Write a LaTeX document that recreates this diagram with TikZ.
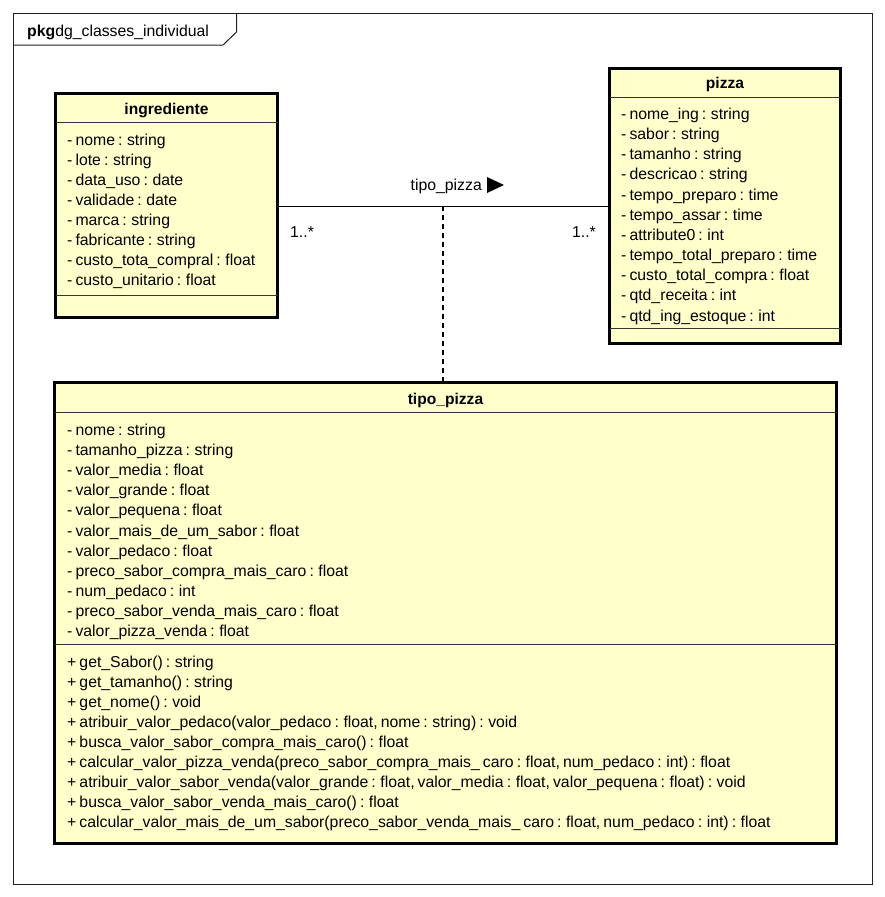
\documentclass[tikz,border=0pt]{standalone}
\usepackage{fontspec}
\setmainfont{Liberation Sans}[WordSpace=0.7]
\definecolor{umlfill}{HTML}{FFFFCC}
\definecolor{framecol}{HTML}{202020}
\begin{document}
\begin{tikzpicture}[x=1pt,y=-1pt,
  classbox/.style={draw=black, line width=3pt, fill=umlfill, rectangle, inner sep=0pt, outer sep=0pt},
  sepline/.style={draw=black!80, line width=1pt},
  attr/.style={anchor=base west, inner sep=0pt, font=\fontsize{15.8}{17}\selectfont},
  title/.style={anchor=base, inner sep=0pt, font=\fontsize{15.6}{17}\selectfont\bfseries},
  lbl/.style={inner sep=0pt, font=\fontsize{15.8}{17}\selectfont},
  assoc/.style={draw=black, line width=1pt},
  dep/.style={draw=black, line width=1.2pt, dash pattern=on 5pt off 4pt}]
\useasboundingbox (0,0) rectangle (885,897);
% package frame
\draw[draw=framecol, line width=1pt] (13.5,13.5) rectangle (872.5,884.5);
\draw[draw=framecol, line width=1pt] (13.5,45) -- (223,45) -- (236.5,32) -- (236.5,13.5);
\node[anchor=base west, inner sep=0pt, font=\fontsize{15.8}{17}\selectfont] (pkgtitle) at (27,36) {\textbf{pkg}dg\_classes\_individual};

% ingrediente
\node[classbox, minimum width=222, minimum height=224] (ing) at (166.5,205.5) {};
\node[title] (ingt) at (166.5,114) {ingrediente};
\draw[sepline] (ing.west |- 0,122) -- (ing.east |- 0,122);
\draw[sepline] (ing.west |- 0,295) -- (ing.east |- 0,295);
\foreach \t [count=\i from 0] in {- nome : string, - lote : string, - data\_uso : date, - validade : date, - marca : string, - fabricante : string, - custo\_tota\_compral : float, - custo\_unitario : float}
  \node[attr] (inga\i) at (67,145+20*\i) {\t};

% pizza
\node[classbox, minimum width=231, minimum height=275] (piz) at (725,206) {};
\node[title] (pizt) at (725,88.5) {pizza};
\draw[sepline] (piz.west |- 0,97) -- (piz.east |- 0,97);
\draw[sepline] (piz.west |- 0,328) -- (piz.east |- 0,328);
\foreach \t [count=\i from 0] in {- nome\_ing : string, - sabor : string, - tamanho : string, - descricao : string, - tempo\_preparo : time, - tempo\_assar : time, - attribute0 : int, - tempo\_total\_preparo : time, - custo\_total\_compra : float, - qtd\_receita : int, - qtd\_ing\_estoque : int}
  \node[attr] (piza\i) at (621,119.5+20.15*\i) {\t};

% tipo_pizza
\node[classbox, minimum width=782, minimum height=461] (tp) at (445.5,613) {};
\node[title] (tpt) at (445.5,404.5) {tipo\_pizza};
\draw[sepline] (tp.west |- 0,412) -- (tp.east |- 0,412);
\draw[sepline] (tp.west |- 0,644) -- (tp.east |- 0,644);
\foreach \t [count=\i from 0] in {- nome : string, - tamanho\_pizza : string, - valor\_media : float, - valor\_grande : float, - valor\_pequena : float, - valor\_mais\_de\_um\_sabor : float, - valor\_pedaco : float, - preco\_sabor\_compra\_mais\_caro : float, - num\_pedaco : int, - preco\_sabor\_venda\_mais\_caro : float, - valor\_pizza\_venda : float}
  \node[attr] (tpa\i) at (67,435.5+20.1*\i) {\t};
\foreach \t [count=\i from 0] in {+ get\_Sabor() : string, + get\_tamanho() : string, + get\_nome() : void, {+ atribuir\_valor\_pedaco(valor\_pedaco : float, nome : string) : void}, + busca\_valor\_sabor\_compra\_mais\_caro() : float, {+ calcular\_valor\_pizza\_venda(preco\_sabor\_compra\_mais\_ caro : float, num\_pedaco : int) : float}, {+ atribuir\_valor\_sabor\_venda(valor\_grande : float, valor\_media : float, valor\_pequena : float) : void}, + busca\_valor\_sabor\_venda\_mais\_caro() : float, {+ calcular\_valor\_mais\_de\_um\_sabor(preco\_sabor\_venda\_mais\_ caro : float, num\_pedaco : int) : float}}
  \node[attr] (tpm\i) at (67,667+20.1*\i) {\t};

% association
\coordinate (amid) at (443,206);
\draw[assoc] (ing.east |- amid) -- (piz.west |- amid);
\draw[dep] (amid) -- (tp.north -| amid);
\node[lbl, anchor=base east] (alabel) at (482,190.5) {tipo\_pizza};
\fill[black] (487,177) -- (504,185) -- (487,193) -- cycle;
\node[lbl, anchor=base west] (m1) at (290,237.5) {1..*};
\node[lbl, anchor=base east] (m2) at (596,237.5) {1..*};
\end{tikzpicture}
\end{document}
